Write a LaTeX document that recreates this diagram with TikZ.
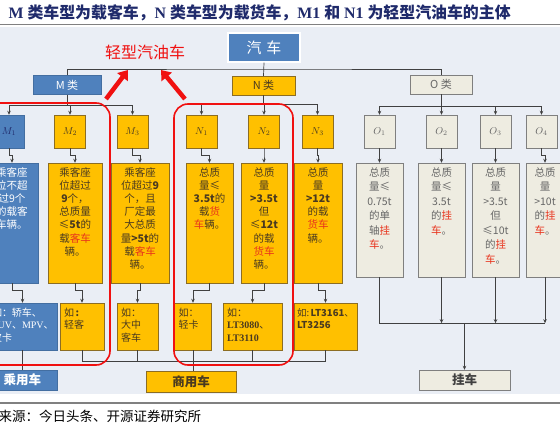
\documentclass[tikz,border=0pt]{standalone}
\usepackage{fontspec}
\setmainfont{Liberation Serif}
\newfontfamily\cjk{Noto Sans CJK SC}
\usetikzlibrary{arrows.meta}
\definecolor{bgblue}{HTML}{EAEEF5}
\definecolor{boxblue}{HTML}{4F81BD}
\definecolor{boxyellow}{HTML}{FFC000}
\definecolor{yelline}{HTML}{8C6D23}
\definecolor{boxbeige}{HTML}{EEECE1}
\definecolor{beigeline}{HTML}{7F7F7F}
\definecolor{yeltext}{HTML}{4A3A20}
\definecolor{greytext}{HTML}{666666}
\definecolor{hired}{HTML}{E8331C}
\definecolor{titleblue}{HTML}{1F2A6B}
\definecolor{linegrey}{HTML}{404040}
\definecolor{rulegrey}{HTML}{808080}
\definecolor{markred}{HTML}{F01010}
\newcommand{\hl}[1]{\textcolor{hired}{#1}}
\begin{document}
\begin{tikzpicture}[x=1pt,y=-1pt,
  line/.style={draw=linegrey, line width=0.7pt},
  arr/.style={line, -{Stealth[length=4pt,width=3.5pt]}},
  bluebox/.style={draw=boxblue!85!black, fill=boxblue, text=white},
  yelbox/.style={draw=yelline, fill=boxyellow, text=yeltext},
  beigebox/.style={draw=beigeline, fill=boxbeige, text=greytext},
  clsbox/.style={minimum height=19pt, inner sep=0pt, font=\cjk\fontsize{11}{13}\selectfont},
  cell/.style={minimum width=31pt, minimum height=33pt, inner sep=0pt, font=\fontsize{10}{12}\selectfont},
  descbox/.style={align=center, inner xsep=1pt, inner ysep=4pt, text height=9pt, text depth=103pt,
    font=\cjk\fontsize{10.5}{13.2}\selectfont},
  odesc/.style={descbox, text depth=97pt, font=\cjk\fontsize{10.5}{14.5}\selectfont},
  exbox/.style={align=left, inner xsep=4pt, inner ysep=4pt, text height=9pt, text depth=30pt,
    font=\cjk\fontsize{10}{12.8}\selectfont},
  endbox/.style={minimum height=20pt, inner sep=0pt, font=\cjk\bfseries\fontsize{12.5}{14}\selectfont},
  redbox/.style={draw=markred, line width=1.6pt, rounded corners=14pt},
  bigred/.style={draw=markred, line width=4.5pt, -{Triangle[length=9pt,width=13pt]}}]
\useasboundingbox (0,0) rectangle (560,423);
\fill[bgblue] (0,27) rectangle (560,394);
\draw[rulegrey, line width=1.8pt] (0,24.5) -- (560,24.5);
\draw[rulegrey, line width=1.5pt] (0,403) -- (560,403);

\node[anchor=west, text=titleblue, font=\bfseries\fontsize{15.9}{18}\selectfont] (title) at (5,12.5)
{M {\cjk 类车型为载客车，}N {\cjk 类车型为载货车，}M1 {\cjk 和} N1 {\cjk 为轻型汽油车的主体}};
\node[anchor=west, font=\cjk\fontsize{13.5}{15}\selectfont] (source) at (-5,416)
{来源：今日头条、开源证券研究所};

% top levels
\node[bluebox, draw=white, line width=1.2pt, minimum width=72pt, minimum height=29pt,
  font=\cjk\fontsize{15}{17}\selectfont] (car) at (264,47.5) {汽\hspace{5pt}车};
\node[text=markred, font=\cjk\fontsize{16}{18}\selectfont] (light) at (145,52) {轻型汽油车};
\node[bluebox, clsbox, minimum width=68pt] (mcls) at (67,85) {M 类};
\node[yelbox, clsbox, minimum width=63pt] (ncls) at (263.5,85.5) {N 类};
\node[beigebox, clsbox, minimum width=62pt] (ocls) at (441,84.5) {O 类};

% vehicle classes
\node[bluebox, cell, text=titleblue] (m1) at (9,131.5) {$M_1$};
\node[yelbox, cell] (m2) at (70,131.5) {$M_2$};
\node[yelbox, cell] (m3) at (132.5,131.5) {$M_3$};
\node[yelbox, cell] (n1) at (201.5,131.5) {$N_1$};
\node[yelbox, cell] (n2) at (264,131.5) {$N_2$};
\node[yelbox, cell] (n3) at (317.5,131.5) {$N_3$};
\node[beigebox, cell] (o1) at (379.5,131.5) {$O_1$};
\node[beigebox, cell] (o2) at (441.5,131.5) {$O_2$};
\node[beigebox, cell] (o3) at (495.5,131.5) {$O_3$};
\node[beigebox, cell] (o4) at (541.5,131.5) {$O_4$};

% definitions
\node[bluebox, descbox, text width=50pt] (dm1) at (12,223)
{乘客座\\位不超\\过9个\\的载客\\车辆。};
\node[yelbox, descbox, text width=52pt] (dm2) at (75,223)
{乘客座\\位超过\\\textbf{9}个，\\总质量\\≤\textbf{5t}的\\载\hl{客车}\\辆。};
\node[yelbox, descbox, text width=56pt] (dm3) at (140,223)
{乘客座\\位超过\textbf{9}\\个，且\\厂定最\\大总质\\量\textbf{>5t}的\\载\hl{客车}\\辆。};
\node[yelbox, descbox, text width=45pt] (dn1) at (209.5,223)
{总质\\量≤\\\textbf{3.5t}的\\载\hl{货}\\\hl{车}辆。};
\node[yelbox, descbox, text width=44pt] (dn2) at (264,223)
{总质\\量\\\textbf{>3.5t}\\但\\≤\textbf{12t}\\的载\\\hl{货车}\\辆。};
\node[yelbox, descbox, text width=46pt] (dn3) at (318,223)
{总质\\量\\\textbf{>12t}\\的载\\\hl{货车}\\辆。};
\node[beigebox, odesc, text width=45pt] (do1) at (379.5,220)
{总质\\量≤\\0.75t\\的单\\轴\hl{挂}\\\hl{车}。};
\node[beigebox, odesc, text width=45pt] (do2) at (441.5,220)
{总质\\量≤\\3.5t\\的\hl{挂}\\\hl{车}。};
\node[beigebox, odesc, text width=45pt] (do3) at (495.5,220)
{总质\\量\\>3.5t\\但\\≤10t\\的\hl{挂}\\\hl{车}。};
\node[beigebox, odesc, text width=36pt] (do4) at (545,220)
{总质\\量\\>10t\\的\hl{挂}\\\hl{车}。};

% examples
\node[bluebox, exbox, text width=61pt] (em1) at (22.5,326.5)
{如：轿车、\\{\rmfamily SUV}、{\rmfamily MPV}、\\皮卡};
\node[yelbox, exbox, text width=36pt] (em2) at (82,326.5) {如\,\textbf{:}\\轻客};
\node[yelbox, exbox, text width=33pt] (em3) at (137.5,326.5) {如：\\大中\\客车};
\node[yelbox, exbox, text width=29pt] (en1) at (193,326.5) {如：\\轻卡};
\node[yelbox, exbox, text width=51pt] (en2) at (252.5,326.5)
{如：\\{\rmfamily\bfseries LT3080}、\\{\rmfamily\bfseries LT3110}};
\node[yelbox, exbox, inner xsep=3pt, text width=57pt, font=\cjk\fontsize{9.5}{12.8}\selectfont] (en3) at (325.5,326.5)
{如:\,\textbf{LT3161}、\\\textbf{LT3256}};

% groups
\node[bluebox, endbox, minimum width=69pt] (pc) at (22.5,380) {乘用车};
\node[yelbox, endbox, minimum width=90pt, minimum height=21pt] (cv) at (191,381.5) {商用车};
\node[beigebox, endbox, minimum width=91pt, text=linegrey] (trailer) at (464.5,380) {挂车};

% tree
\coordinate (bus) at (264,69);
\draw[line] (car.south) -- (ncls.north);
\draw[line] (mcls.north) |- (bus) -| (ocls.north);
\draw[line] (mcls.south) -- ++(0,10.5) coordinate (mbus);
\draw[arr] (mbus) -| (m1.north);
\draw[arr] (mbus) -| (m2.north);
\draw[arr] (mbus) -| (m3.north);
\draw[line] (ncls.south) -- ++(0,9.5) coordinate (nbus);
\draw[arr] (nbus) -| (n1.north);
\draw[arr] (nbus) -| (n2.north);
\draw[arr] (nbus) -| (n3.north);
\draw[line] (ocls.south) -- ++(0,12) coordinate (obustop);
\draw[arr] (obustop) -| (o1.north);
\draw[arr] (obustop) -| (o2.north);
\draw[arr] (obustop) -| (o3.north);
\draw[arr] (obustop) -| (o4.north);

% class to definition
\draw[arr] (m1.south) -- ++(0,7) -| (dm1.north);
\draw[arr] (m2.south) -- ++(0,7) -| (dm2.north);
\draw[arr] (m3.south) -- ++(0,7) -| (dm3.north);
\draw[arr] (n1.south) -- ++(0,7) -| (dn1.north);
\draw[arr] (n2.south) -- ++(0,7) -| (dn2.north);
\draw[arr] (n3.south) -- ++(0,7) -| (dn3.north);
\draw[arr] (o1.south) -- ++(0,7) -| (do1.north);
\draw[arr] (o2.south) -- ++(0,7) -| (do2.north);
\draw[arr] (o3.south) -- ++(0,7) -| (do3.north);
\draw[arr] (o4.south) -- ++(0,7) -| (do4.north);

% definition to example
\draw[arr] (dm1.south) -- ++(0,7) -| (em1.north);
\draw[arr] (dm2.south) -- ++(0,7) -| (em2.north);
\draw[arr] (dm3.south) -- ++(0,7) -| (em3.north);
\draw[arr] (dn1.south) -- ++(0,7) -| (en1.north);
\draw[arr] (dn2.south) -- ++(0,7) -| (en2.north);
\draw[arr] (dn3.south) -- ++(0,7) -| (en3.north);

% groups
\draw[line] (em1.south) -- (pc.north);
\draw[line] (em2.south) -- ++(0,11) coordinate (cbus) -| (en3.south);
\draw[line] (em3.south) -- (em3.south |- cbus);
\draw[line] (en2.south) -- (en2.south |- cbus);
\draw[line] (en1.south) -- (en1.south |- cv.north);
\draw[line] (do1.south) -- ++(0,46) coordinate (obus) -- (obus -| do4.south);
\draw[arr] (do2.south) -- (do2.south |- obus);
\draw[arr] (do3.south) -- (do3.south |- obus);
\draw[arr] (do4.south) -- (do4.south |- obus);
\draw[arr] (obus -| trailer.north) -- (trailer.north);

% light vehicles
\draw[redbox] (-20,103) rectangle (110,365);
\draw[redbox] (174,104) rectangle (293,365);
\coordinate (ra1) at (106,99);
\coordinate (ra1t) at (128,70);
\coordinate (ra2) at (185,99);
\coordinate (ra2t) at (161,70);
\draw[bigred] (ra1) -- (ra1t);
\draw[bigred] (ra2) -- (ra2t);
\end{tikzpicture}
\end{document}
